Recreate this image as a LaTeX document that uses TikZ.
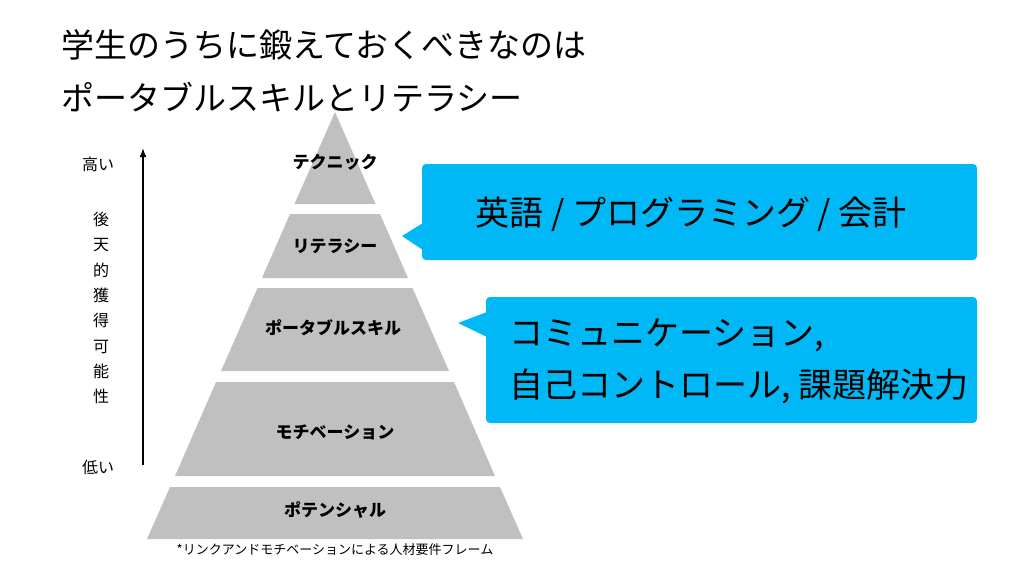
\documentclass[tikz,border=0pt]{standalone}
\usepackage{fontspec}
\setmainfont{Noto Sans CJK JP}
\usepackage{tikz}
\usetikzlibrary{arrows.meta, positioning}
\definecolor{tiergray}{RGB}{192, 192, 192}
\definecolor{calloutblue}{RGB}{0, 184, 245}

\begin{document}
\begin{tikzpicture}[x=1pt, y=-1pt,
    tierlabel/.style={font=\fontsize{17}{17}\selectfont\bfseries, inner sep=0pt},
    titleline/.style={font=\fontsize{33}{33}\selectfont, anchor=west, inner sep=0pt},
    callouttext/.style={font=\fontsize{34}{52}\selectfont, align=left, inner sep=0pt}]
    \useasboundingbox (0,0) rectangle (1024,576);

    % title
    \node[titleline] (title1) at (61,45) {学生のうちに鍛えておくべきなのは};
    \node[titleline] (title2) at (61,97) {ポータブルスキルとリテラシー};

    % pyramid tiers
    \fill[tiergray] (335,112) -- (375.5,204) -- (294.5,204) -- cycle;
    \node[tierlabel] (technique) at (335,162) {テクニック};

    \fill[tiergray] (290,214) -- (380,214) -- (408,278) -- (262,278) -- cycle;
    \node[tierlabel] (literacy) at (335,246) {リテラシー};

    \fill[tiergray] (257.5,288) -- (412.5,288) -- (449,371) -- (221,371) -- cycle;
    \node[tierlabel] (portable) at (333,328) {ポータブルスキル};

    \fill[tiergray] (216,382) -- (454,382) -- (495,476) -- (175,476) -- cycle;
    \node[tierlabel] (motivation) at (335,432) {モチベーション};

    \fill[tiergray] (170,487) -- (500,487) -- (523,539) -- (147,539) -- cycle;
    \node[tierlabel] (potential) at (335,510) {ポテンシャル};

    \node[font=\fontsize{13}{13}\selectfont, inner sep=0pt] (source) at (335,550) {*リンクアンドモチベーションによる人材要件フレーム};

    % left axis
    \coordinate (axislow) at (143,465);
    \coordinate (axishigh) at (143,148);
    \draw[line width=1.5pt, -{Latex[length=9pt,width=7pt]}] (axislow) -- (axishigh);
    \node[font=\fontsize{16}{16}\selectfont, inner sep=0pt] (high) at (98,164) {高い};
    \node[font=\fontsize{16}{16}\selectfont, inner sep=0pt] (low) at (98,467) {低い};
    \node[font=\fontsize{16}{25.3}\selectfont, align=center, inner sep=0pt] (acquire) at (101,308)
        {後\\天\\的\\獲\\得\\可\\能\\性};

    % callouts
    \fill[calloutblue, rounded corners=4pt] (422,164) rectangle (977,260);
    \fill[calloutblue] (423,223) -- (402,236) -- (423,250) -- cycle;
    \node[callouttext] (hardskills) at (691,214) {英語 / プログラミング / 会計};

    \fill[calloutblue, rounded corners=4pt] (486,297) rectangle (977,423);
    \fill[calloutblue] (487,312) -- (458,323) -- (487,337) -- cycle;
    \node[callouttext, anchor=west] (softskills) at (509,361) {コミュニケーション,\\自己コントロール, 課題解決力};
\end{tikzpicture}
\end{document}
